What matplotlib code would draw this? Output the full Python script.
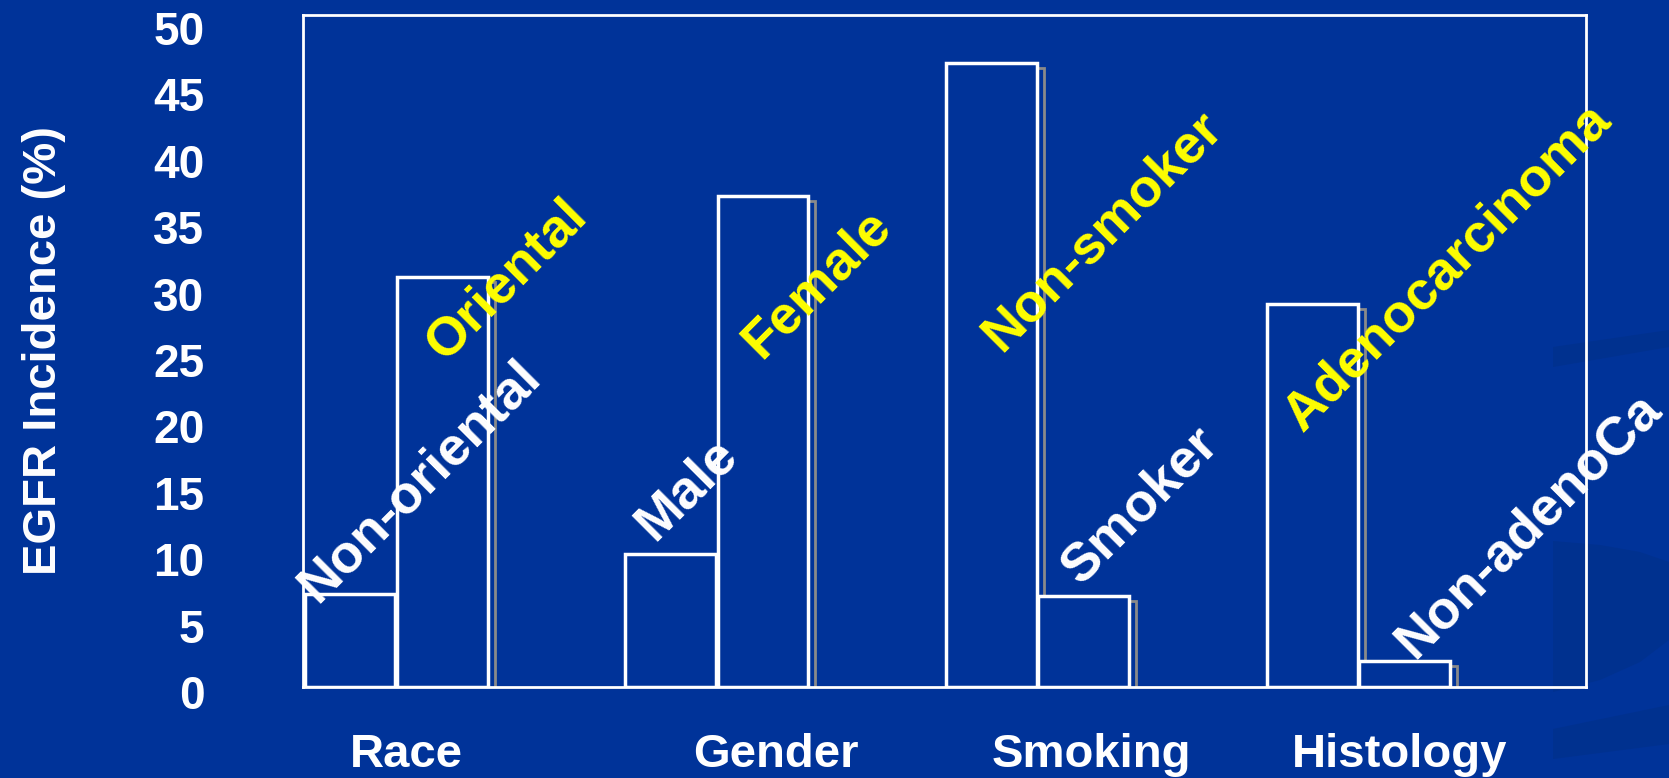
import matplotlib
matplotlib.use("Agg")
import matplotlib.pyplot as plt
import matplotlib.transforms as mtransforms
from matplotlib.patches import Polygon

# EGFR incidence (%) by patient subgroup
categories = ["Race", "Gender", "Smoking", "Histology"]
low_labels = ["Non-oriental", "Male", "Smoker", "Non-adenoCa"]
high_labels = ["Oriental", "Female", "Non-smoker", "Adenocarcinoma"]
first_vals = [6.9, 9.9, 46.4, 28.5]     # left bar of each pair
second_vals = [30.5, 36.5, 6.8, 1.9]    # right bar of each pair
yticks = [0, 5, 10, 15, 20, 25, 30, 35, 40, 45, 50]

# where the slanted group labels sit (data coords)
label_pos = {
    "Non-oriental": (0.365, 15.3),
    "Oriental": (0.636, 30.3),
    "Male": (1.197, 14.7),
    "Female": (1.602, 30.0),
    "Non-smoker": (2.494, 33.9),
    "Smoker": (2.610, 13.5),
    "Adenocarcinoma": (3.570, 31.2),
    "Non-adenoCa": (3.819, 12.0),
}
cat_x = [0.321, 1.474, 2.457, 3.42]

bg = "#003399"
plt.rcParams["font.family"] = ["Liberation Sans", "DejaVu Sans"]
plt.rcParams["font.weight"] = "bold"

fig = plt.figure(figsize=(16.69, 7.78), dpi=100, facecolor=bg)

# faint slide watermark strokes on the right edge, on a background layer
W, H = 1669, 778
bgax = fig.add_axes([0, 0, 1, 1], zorder=-1)
bgax.set_xlim(0, W)
bgax.set_ylim(H, 0)
bgax.axis("off")
marks = [
    [(1553, 347), (1669, 330), (1669, 347), (1553, 367)],
    [(1553, 541), (1600, 545), (1640, 552), (1669, 562),
     (1669, 640), (1640, 662), (1600, 680), (1553, 692)],
    [(1553, 729), (1669, 705), (1669, 744), (1553, 759)],
]
for m in marks:
    bgax.add_patch(Polygon(m, closed=True, facecolor="#00318f",
                           edgecolor="none"))

ax = fig.add_axes([0.1815, 0.117, 0.7688, 0.8637])
ax.patch.set_visible(False)

x = list(range(len(categories)))
w = 0.283
x1 = [i + 0.005 for i in x]
x2 = [i + 0.293 for i in x]

# grey drop shadows, shifted right/down a few pixels
shift = ax.transData + mtransforms.ScaledTranslation(7 / 100, -5 / 100,
                                                     fig.dpi_scale_trans)
for xs, vals in [(x1, first_vals), (x2, second_vals)]:
    sh = ax.bar(xs, vals, width=w, align="edge", color=bg, edgecolor="#8a8a8a",
                linewidth=2, zorder=2)
    for p in sh:
        p.set_transform(shift)

for xs, vals, z in [(x1, first_vals, 3), (x2, second_vals, 4)]:
    ax.bar(xs, vals, width=w, align="edge", color=bg, edgecolor="white",
           linewidth=2.5, zorder=z)

ax.set_xlim(0, 4)
ax.set_ylim(0, 50)
ax.set_yticks(yticks)
ax.set_xticks([])
ax.tick_params(axis="y", length=0, pad=71, labelsize=33, labelcolor="white")
for v, lab in zip(yticks, ax.get_yticklabels()):
    lab.set_fontweight("bold")
    dy = (5 + 0.16 * v) / 100
    lab.set_transform(lab.get_transform() +
                      mtransforms.ScaledTranslation(0, -dy, fig.dpi_scale_trans))
for s in ax.spines.values():
    s.set_color("white")
    s.set_linewidth(2)
    s.set_zorder(5)

ax.set_ylabel("EGFR Incidence (%)", color="white", fontsize=34,
              fontweight="bold", labelpad=0)
ax.yaxis.set_label_coords(-0.185, 0.5)

for name in low_labels:
    px, py = label_pos[name]
    ax.text(px, py, name, rotation=45, rotation_mode="anchor", ha="center",
            va="center", fontsize=39, fontweight="bold", color="white", zorder=6)
for name in high_labels:
    px, py = label_pos[name]
    ax.text(px, py, name, rotation=45, rotation_mode="anchor", ha="center",
            va="center", fontsize=39, fontweight="bold", color="#ffff00", zorder=6)

for cx, c in zip(cat_x, categories):
    ax.text(cx, -0.119, c, transform=ax.get_xaxis_transform(), ha="center",
            va="baseline", fontsize=34, fontweight="bold", color="white",
            clip_on=False)

fig.savefig("out.png", dpi=100, facecolor=bg)
